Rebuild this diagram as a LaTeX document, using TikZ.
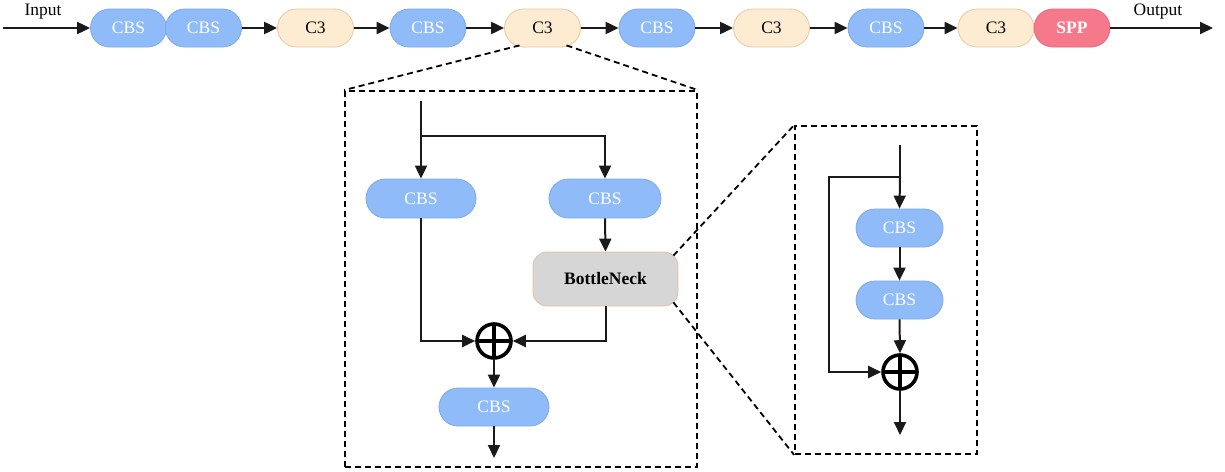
\documentclass[tikz,border=0pt]{standalone}
\usepackage{fontspec}
\setmainfont{Liberation Serif}
\usetikzlibrary{arrows.meta,shapes.misc}
\definecolor{cbsfill}{HTML}{8FBBF9}
\definecolor{cbsdraw}{HTML}{7EA8E8}
\definecolor{cfill}{HTML}{FDEBD2}
\definecolor{cdraw}{HTML}{E9C7A2}
\definecolor{sppfill}{HTML}{F5798B}
\definecolor{sppdraw}{HTML}{E86A7C}
\definecolor{bnfill}{HTML}{D6D6D6}
\definecolor{bndraw}{HTML}{E3BFA0}
\definecolor{linec}{HTML}{1A1A1A}

\begin{document}
\begin{tikzpicture}[x=1pt,y=-1pt,
  every node/.style={font=\fontsize{17.5}{20}\selectfont, inner sep=0pt},
  pill/.style={rounded rectangle, minimum width=76pt, minimum height=38pt, line width=0.8pt},
  cbs/.style={pill, fill=cbsfill, draw=cbsdraw, text=white},
  cthree/.style={pill, fill=cfill, draw=cdraw, text=black},
  spp/.style={pill, fill=sppfill, draw=sppdraw, text=white, font=\fontsize{17.5}{20}\selectfont\bfseries},
  bottleneck/.style={rectangle, rounded corners=14pt, fill=bnfill, draw=bndraw, line width=0.8pt,
    minimum width=145pt, minimum height=54pt, font=\fontsize{17.5}{20}\selectfont\bfseries},
  flow/.style={line width=2pt, draw=linec, -{Triangle[length=13pt,width=12pt]}},
  wire/.style={line width=2pt, draw=linec},
  frame/.style={draw=black, dash pattern=on 6pt off 4pt, line width=1.8pt},
  sum/.style={circle, draw=black, line width=3.6pt, minimum size=34pt,
    path picture={\draw[line width=3.6pt] (path picture bounding box.north) -- (path picture bounding box.south)
      (path picture bounding box.west) -- (path picture bounding box.east);}}
]
\useasboundingbox (0,0) rectangle (1225,471);

% ---- backbone ----
\node[cbs]    (b1)  at (128.5,28) {CBS};
\node[cbs]    (b2)  at (203.5,28) {CBS};
\node[cthree] (b3)  at (315.5,28) {C3};
\node[cbs]    (b4)  at (428,28)   {CBS};
\node[cthree] (b5)  at (542.5,28) {C3};
\node[cbs]    (b6)  at (657,28)   {CBS};
\node[cthree] (b7)  at (771.5,28) {C3};
\node[cbs]    (b8)  at (886,28)   {CBS};
\node[cthree] (b9)  at (996,28)   {C3};
\node[spp]    (b10) at (1072,28)  {SPP};

\coordinate (in)  at (3,28);
\coordinate (out) at (1213,28);
\node (inlab)  at (43,12)   {Input};
\node (outlab) at (1158,12) {Output};

\draw[flow] (in) -- (b1.west);
\draw[flow] (b2.east) -- (b3.west);
\draw[flow] (b3.east) -- (b4.west);
\draw[flow] (b4.east) -- (b5.west);
\draw[flow] (b5.east) -- (b6.west);
\draw[flow] (b6.east) -- (b7.west);
\draw[flow] (b7.east) -- (b8.west);
\draw[flow] (b8.east) -- (b9.west);
\draw[flow] (b10.east) -- (out);

% ---- C3 module ----
\node[frame, minimum width=352pt, minimum height=376pt] (c3box) at (521,279) {};
\draw[frame] ([xshift=-23pt,yshift=2pt]b5.south) -- (c3box.north west);
\draw[frame] ([xshift=24pt,yshift=2pt]b5.south) -- (c3box.north east);

\node[cbs, minimum width=110pt, minimum height=39pt] (lcbs) at (421,198.5) {CBS};
\node[cbs, minimum width=112pt, minimum height=39pt] (rcbs) at (605,198.5) {CBS};
\node[bottleneck] (bneck) at (605.5,279) {BottleNeck};
\node[sum] (sum1) at (494,341) {};
\node[cbs, minimum width=110pt, minimum height=38pt] (ocbs) at (494,407) {CBS};

\coordinate (top1)   at (421,101);
\coordinate (split1) at (421,136);
\coordinate (end1)   at (494,458);

\draw[wire] (top1) -- (split1);
\draw[flow] (split1) -- (lcbs.north);
\draw[flow] (split1) -| (rcbs.north);
\draw[flow] (rcbs.south) -- (bneck.north);
\draw[flow] (lcbs.south) |- (sum1.west);
\draw[flow] (bneck.south) |- (sum1.east);
\draw[flow] (sum1.south) -- (ocbs.north);
\draw[flow] (ocbs.south) -- (end1);

% ---- BottleNeck module ----
\node[frame, minimum width=182pt, minimum height=328pt] (bnbox) at (886,290) {};
\draw[frame] ([xshift=-5pt,yshift=-4pt]bneck.north east) -- (bnbox.north west);
\draw[frame] ([xshift=-5pt,yshift=4pt]bneck.south east) -- (bnbox.south west);

\node[cbs, minimum width=87pt, minimum height=38pt] (scbs1) at (899.5,228) {CBS};
\node[cbs, minimum width=87pt, minimum height=38pt] (scbs2) at (899.5,300) {CBS};
\node[sum] (sum2) at (900,372) {};

\coordinate (top2)   at (900,145);
\coordinate (split2) at (900,177);
\coordinate (loop2)  at (829,177);
\coordinate (end2)   at (900,435);

\draw[wire] (top2) -- (split2);
\draw[flow] (split2) -- (scbs1.north);
\draw[flow] (scbs1.south) -- (scbs2.north);
\draw[flow] (scbs2.south) -- (sum2.north);
\draw[flow] (split2) -- (loop2) |- (sum2.west);
\draw[flow] (sum2.south) -- (end2);
\end{tikzpicture}
\end{document}
